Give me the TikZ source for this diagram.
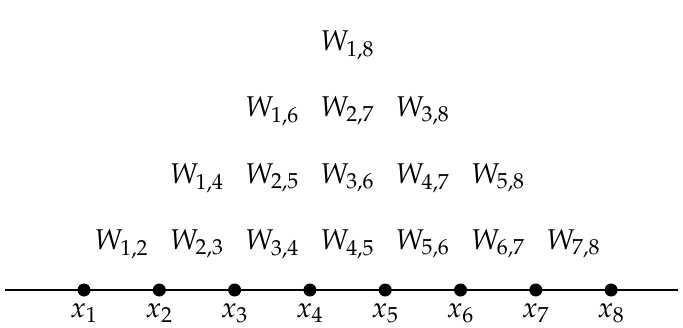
\documentclass[tikz,border=0pt]{standalone}
\usepackage{mathpazo}
\usetikzlibrary{positioning}
\tikzset{pt/.style={circle,fill=black,inner sep=0pt,minimum size=6.5pt},
	wlab/.style={font=\fontsize{14.3}{17}\selectfont,inner sep=1pt}}

\begin{document}
\begin{tikzpicture}[x=0.5pt,y=-0.5pt]
	\useasboundingbox (0,0) rectangle (683,327);
	\def\d{75.3}
	\coordinate (left) at (5,290);
	\coordinate (right) at (678,290);
	\draw[line width=1pt] (left) -- (right);
	
	% points on the line
	\foreach \i in {1,...,8}{
		\node[pt] (p\i) at ({84+(\i-1)*\d},290) {};
		\node[wlab] (x\i) at ({84+(\i-1)*\d},313) {$x_{\i}$};
	}
	
	% rows of W
	\foreach \k/\yy in {1/244,3/178,5/111,7/45}{
		\pgfmathtruncatemacro\n{8-\k}
		\foreach \i in {1,...,\n}{
			\pgfmathtruncatemacro\j{\i+\k}
			\node[wlab] (w\i-\j) at ({84+(\i-1+\k/2)*\d},\yy) {$W_{\i,\j}$};
		}
	}
\end{tikzpicture}
\end{document}
